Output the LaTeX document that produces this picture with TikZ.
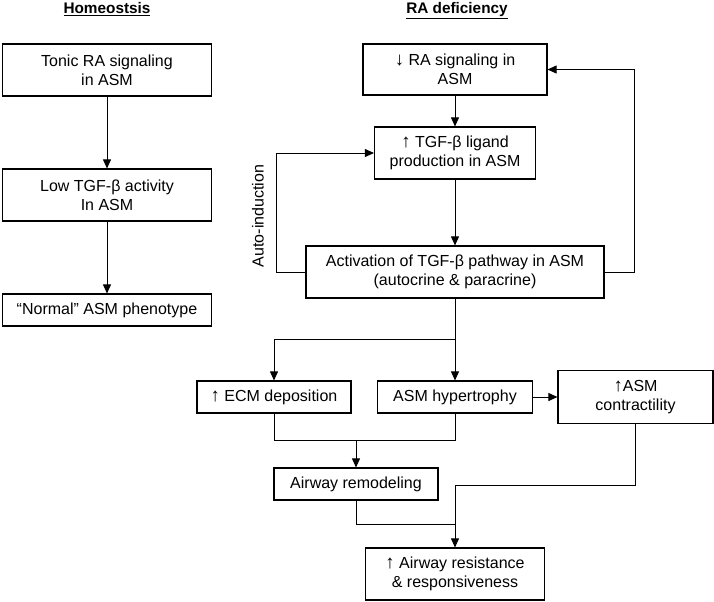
\documentclass[tikz,border=0pt]{standalone}
\usepackage{fontspec}
\setmainfont{Liberation Sans}
\usetikzlibrary{arrows.meta}
\newcommand{\sube}{{\fontsize{14}{14.4}\selectfont↑}}
\newcommand{\baja}{{\fontsize{14}{14.4}\selectfont↓}}

\begin{document}
\begin{tikzpicture}[x=0.75pt, y=-0.75pt,
    caja/.style 2 args={draw, line width=0.8pt, align=center, inner sep=0pt,
        minimum width=#1*0.75pt, minimum height=#2*0.75pt,
        font=\fontsize{12}{14.4}\selectfont},
    flecha/.style={-{Triangle[length=6.8pt,width=6pt]}, line width=0.7pt},
    linea/.style={line width=0.7pt},
    titulo/.style={font=\fontsize{11.5}{13}\selectfont\bfseries, anchor=base}]
    \useasboundingbox (0,0) rectangle (714,601);

    % Titulos
    \node[titulo] (tithomeo) at (107,13) {\underline{Homeostsis}};
    \node[titulo] (titdefic) at (457,13) {\underline{RA deficiency}};

    % Columna izquierda: homeostasis
    \node[caja={209}{52}] (tonic) at (107,70) {Tonic RA signaling\\in ASM};
    \node[caja={209}{52}] (lowtgf) at (107,195) {Low TGF-β activity\\In ASM};
    \node[caja={209}{32}] (normal) at (107,310) {“Normal” ASM phenotype};

    % Columna derecha: deficiencia de RA
    \node[caja={184}{51}] (rasig) at (455,69.5) {\baja{} RA signaling in\\ASM};
    \node[caja={161}{52}] (ligand) at (455,153) {\sube{} TGF-β ligand\\production in ASM};
    \node[caja={298}{52}] (activ) at (455,272)
        {Activation of TGF-β pathway in ASM\\(autocrine \& paracrine)};
    \node[caja={154}{32}] (ecm) at (274,397) {\sube{} ECM deposition};
    \node[caja={155}{32}] (hyper) at (455,397) {ASM hypertrophy};
    \node[caja={155}{53}] (contr) at (635.5,397) {\sube{}ASM\\contractility};
    \node[caja={164}{32}] (remod) at (356,484) {Airway remodeling};
    \node[caja={179}{52}] (resist) at (455,574) {\sube{} Airway resistance\\\& responsiveness};

    \node[rotate=90, font=\fontsize{12}{14.4}\selectfont] (autoind) at (258,216)
        {Auto-induction};

    % Conectores
    \coordinate (rama) at (455,339);
    \coordinate (junta) at (356,440);
    \coordinate (union) at (455,524);

    \draw[flecha] (tonic) -- (lowtgf);
    \draw[flecha] (lowtgf) -- (normal);
    \draw[flecha] (rasig) -- (ligand);
    \draw[flecha] (ligand) -- (activ);
    \draw[flecha] (activ.west) -- ++(-29,0) |- (ligand.west);
    \draw[flecha] (activ.east) -- ++(30,0) |- (rasig.east);
    \draw[linea] (activ.south) -- (rama);
    \draw[flecha] (rama) -- (hyper);
    \draw[flecha] (rama) -| (ecm.north);
    \draw[flecha] (hyper) -- (contr);
    \draw[linea] (ecm.south) |- (junta) -| (hyper.south);
    \draw[flecha] (junta) -- (remod);
    \draw[linea] (remod.south) |- (union);
    \draw[flecha] (contr.south) -- ++(0,61.5) -| (resist.north);
\end{tikzpicture}
\end{document}
